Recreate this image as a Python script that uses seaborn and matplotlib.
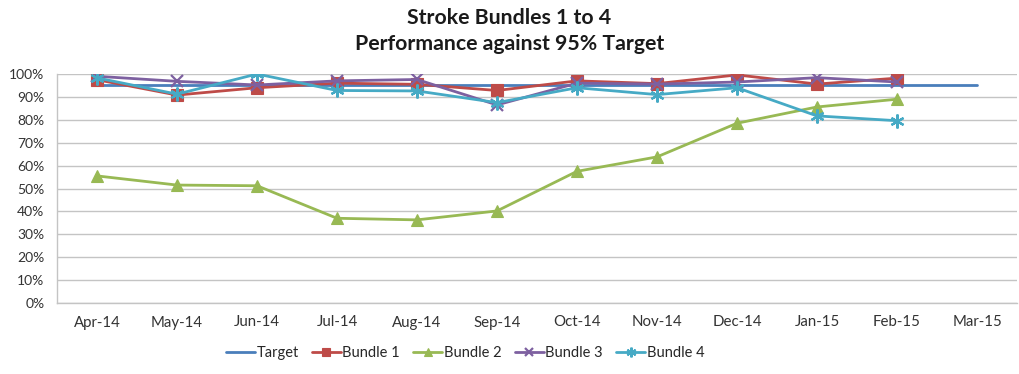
import numpy as np
import pandas as pd
import matplotlib
matplotlib.use("Agg")
import matplotlib.pyplot as plt
import seaborn as sns

months = ["Apr-14", "May-14", "Jun-14", "Jul-14", "Aug-14", "Sep-14",
          "Oct-14", "Nov-14", "Dec-14", "Jan-15", "Feb-15", "Mar-15"]
target = [95, 95, 95, 95, 95, 95, 95, 95, 95, 95, 95, 95]
bundle1 = [97.5, 90.8, 94, 96, 95.5, 92.8, 97, 95.8, 99.6, 95.6, 98.2, np.nan]
bundle2 = [55.5, 51.5, 51.2, 37, 36.3, 40.2, 57.5, 63.8, 78.5, 85.6, 89, np.nan]
bundle3 = [99, 96.8, 95.2, 97, 97.6, 86.5, 96, 95.6, 96.5, 98.4, 96.5, np.nan]
bundle4 = [98.3, 91.2, 100, 92.8, 92.6, 87.5, 94, 91, 94, 81.7, 79.6, np.nan]

series_names = ["Target", "Bundle 1", "Bundle 2", "Bundle 3", "Bundle 4"]
series_values = [target, bundle1, bundle2, bundle3, bundle4]

rows = []
for name, vals in zip(series_names, series_values):
    for i, v in enumerate(vals):
        rows.append({"pos": i, "Month": months[i], "Series": name, "Value": v})
df = pd.DataFrame(rows).dropna()

sns.set_theme(style="white")
plt.rcParams["font.family"] = ["Lato", "DejaVu Sans"]

palette = {"Target": "#4A7EBB", "Bundle 1": "#BE4B48", "Bundle 2": "#98B954",
           "Bundle 3": "#7D60A0", "Bundle 4": "#46AAC5"}
markers = {"Target": "", "Bundle 1": "s", "Bundle 2": "^",
           "Bundle 3": "x", "Bundle 4": (6, 2, 0)}
msizes = {"Target": 0, "Bundle 1": 8, "Bundle 2": 8, "Bundle 3": 8, "Bundle 4": 10}

fig = plt.figure(figsize=(10.19, 3.74), dpi=100)
ax = fig.add_axes([57 / 1019, 1 - 303 / 374, 960 / 1019, 229 / 374])

for name in series_names:
    sub = df[df["Series"] == name]
    sns.lineplot(data=sub, x="pos", y="Value", ax=ax, color=palette[name],
                 linewidth=2.0, marker=markers[name] if markers[name] else None,
                 markersize=msizes[name],
                 markeredgewidth=1.6 if name in ("Bundle 3", "Bundle 4") else 0.8,
                 markeredgecolor=palette[name], label=name,
                 zorder=3 if name != "Target" else 2)

ax.set_xlim(-0.5, 11.5)
ax.set_ylim(0, 100)
ax.set_xticks(range(len(months)))
ax.set_xticklabels(months)
yt = np.arange(0, 101, 10)
ax.set_yticks(yt)
ax.set_yticklabels([f"{v}%" for v in yt])
ax.tick_params(axis="both", colors="#333333", length=0)
ax.tick_params(axis="x", labelsize=10.8, pad=9)
ax.tick_params(axis="y", labelsize=10, pad=9)
ax.set_xlabel("")
ax.set_ylabel("")
ax.yaxis.grid(True, color="#C4C4C4", linewidth=1.0)
ax.set_axisbelow(True)
for s in ["top", "right"]:
    ax.spines[s].set_visible(False)
for s in ["left", "bottom"]:
    ax.spines[s].set_color("#C4C4C4")
    ax.spines[s].set_linewidth(1.0)

handles, labels = ax.get_legend_handles_labels()
if ax.get_legend():
    ax.get_legend().remove()
fig.legend(handles, labels, loc="center", bbox_to_anchor=(465 / 1019, 1 - 353 / 374),
           ncol=5, frameon=False, fontsize=10.5, handlelength=2.0,
           handletextpad=0.1, columnspacing=0.9, markerscale=0.7)

fig.text(0.5, 1 - 18 / 374, "Stroke Bundles 1 to 4", ha="center", va="center",
         fontsize=15.3, fontweight="bold", color="#1A1A1A")
fig.text(0.5, 1 - 44 / 374, "Performance against 95% Target", ha="center", va="center",
         fontsize=15.3, fontweight="bold", color="#1A1A1A")

fig.savefig("out.png", dpi=100, facecolor="white")
